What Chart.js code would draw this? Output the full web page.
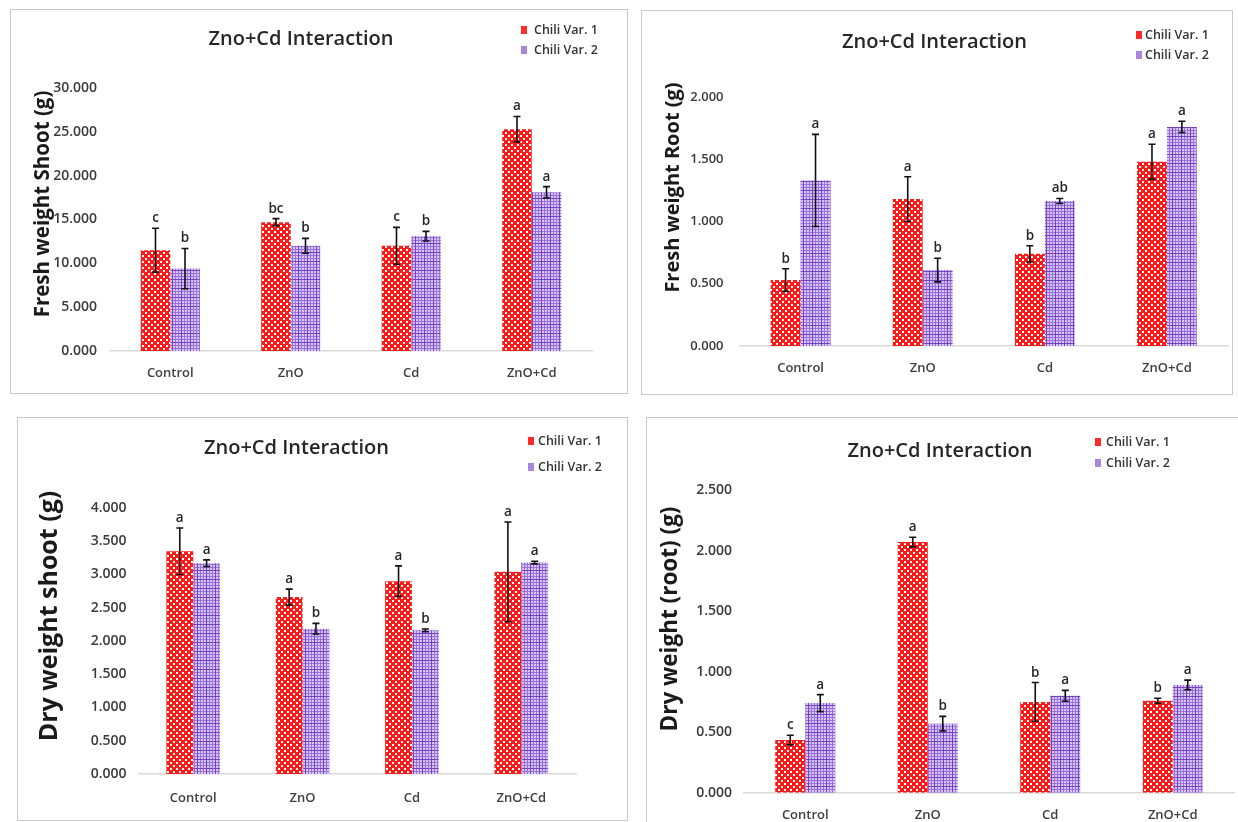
<!DOCTYPE html>
<html>
<head>
<meta charset="utf-8">
<script src="https://cdn.jsdelivr.net/npm/chart.js@4.4.1/dist/chart.umd.min.js"></script>
<style>
body{margin:0;background:#fff;width:1238px;height:822px;overflow:hidden;position:relative;font-family:'Open Sans',sans-serif}
.panel{position:absolute;border:1px solid #c9c9c9;box-sizing:border-box;background:#fff}
.panel .wrap{position:absolute;left:-1px;top:-1px}
.leg{position:absolute;font:600 12.5px 'Open Sans',sans-serif;color:#333;line-height:16px;white-space:nowrap}
</style>
</head>
<body>
<script>
// Data

const categories = ['Control', 'ZnO', 'Cd', 'ZnO+Cd'];
const seriesNames = ['Chili Var. 1', 'Chili Var. 2'];
const chartTitle = 'Zno+Cd Interaction';

// fresh weight shoot
const fwShootVar1 = [11.5, 14.7, 12.0, 25.3];
const fwShootVar2 = [9.4, 12.0, 13.1, 18.1];
const fwShootErr1 = [2.5, 0.4, 2.1, 1.45];
const fwShootErr2 = [2.3, 0.85, 0.55, 0.65];
const fwShootLet1 = ['c', 'bc', 'c', 'a'];
const fwShootLet2 = ['b', 'b', 'b', 'a'];

// fresh weight root
const fwRootVar1 = [0.53, 1.18, 0.74, 1.48];
const fwRootVar2 = [1.33, 0.61, 1.165, 1.76];
const fwRootErr1 = [0.09, 0.18, 0.065, 0.14];
const fwRootErr2 = [0.37, 0.095, 0.02, 0.045];
const fwRootLet1 = ['b', 'a', 'b', 'a'];
const fwRootLet2 = ['a', 'b', 'ab', 'a'];

// dry weight shoot
const dwShootVar1 = [3.35, 2.66, 2.90, 3.04];
const dwShootVar2 = [3.17, 2.185, 2.16, 3.18];
const dwShootErr1 = [0.35, 0.12, 0.23, 0.75];
const dwShootErr2 = [0.05, 0.08, 0.02, 0.02];
const dwShootLet1 = ['a', 'a', 'a', 'a'];
const dwShootLet2 = ['a', 'b', 'b', 'a'];

// dry weight root
const dwRootVar1 = [0.435, 2.07, 0.75, 0.76];
const dwRootVar2 = [0.74, 0.57, 0.80, 0.89];
const dwRootErr1 = [0.04, 0.04, 0.16, 0.02];
const dwRootErr2 = [0.07, 0.06, 0.045, 0.04];
const dwRootLet1 = ['c', 'a', 'b', 'b'];
const dwRootLet2 = ['a', 'b', 'a', 'a'];

const yTitles = ['Fresh weight Shoot (g)', 'Fresh weight Root (g)', 'Dry weight shoot (g)', 'Dry weight (root) (g)'];
const yMax = [30, 2, 4, 2.5];
const yStep = [5, 0.5, 0.5, 0.5];

// Patterns

var pctx = document.createElement('canvas').getContext('2d');

function redPattern() {
	var c = document.createElement('canvas'); c.width = 6; c.height = 6;
	var g = c.getContext('2d');
	g.fillStyle = '#ff1a1a'; g.fillRect(0, 0, 6, 6);
	g.fillStyle = '#ffffff';
	g.fillRect(0, 0, 2, 2); g.fillRect(3, 3, 2, 2);
	return pctx.createPattern(c, 'repeat');
}
function purplePattern() {
	var c = document.createElement('canvas'); c.width = 9; c.height = 9;
	var g = c.getContext('2d');
	g.fillStyle = '#d6c5f1'; g.fillRect(0, 0, 9, 9);
	g.fillStyle = '#9a72dc';
	[3, 6].forEach(function (k) { g.fillRect(k, 0, 1, 9); g.fillRect(0, k, 9, 1); });
	g.fillStyle = '#7440c6';
	g.fillRect(0, 0, 1, 9); g.fillRect(0, 0, 9, 1);
	return pctx.createPattern(c, 'repeat');
}
var red = redPattern(), purple = purplePattern();

// error bars, letters and y title
const annot = {
	id: 'annot',
	afterDatasetsDraw(chart) {
		var ctx = chart.ctx, y = chart.scales.y;
		chart.data.datasets.forEach(function (ds, i) {
			chart.getDatasetMeta(i).data.forEach(function (bar, j) {
				var v = ds.data[j], e = ds.errors[j];
				var t = y.getPixelForValue(v + e), b = y.getPixelForValue(v - e);
				ctx.save();
				ctx.strokeStyle = '#111'; ctx.lineWidth = 1.6;
				ctx.beginPath();
				ctx.moveTo(bar.x, t); ctx.lineTo(bar.x, b);
				ctx.moveTo(bar.x - 3.5, t); ctx.lineTo(bar.x + 3.5, t);
				ctx.moveTo(bar.x - 3.5, b); ctx.lineTo(bar.x + 3.5, b);
				ctx.stroke();
				ctx.fillStyle = '#262626';
				ctx.font = '600 13.5px "Open Sans"';
				ctx.textAlign = 'center';
				ctx.fillText(ds.letters[j], bar.x, t - 6);
				ctx.restore();
			});
		});
	},
	afterDraw(chart, args, o) {
		var ctx = chart.ctx;
		ctx.save();
		ctx.translate(o.x, o.y); ctx.rotate(-Math.PI / 2);
		ctx.font = 'bold ' + o.size + 'px "Open Sans"';
		ctx.fillStyle = '#1a1a1a';
		ctx.textAlign = 'center'; ctx.textBaseline = 'middle';
		ctx.fillText(o.text, 0, 0);
		ctx.restore();
	}
};

// panel boxes: left, top, w, h, y axis width, right pad, title pad, x axis height, x tick pad, y tick pad/size, y title x/y/size
var panels = [
	{ l: 10, t: 9, w: 618, h: 385, yw: 100, rp: 36, tt: 18.5, tb: 36.5, xh: 43, xp: 14, yp: 13, yf: 14, tx: 33, ty: 195, ts: 20.5,
	  v1: fwShootVar1, v2: fwShootVar2, e1: fwShootErr1, e2: fwShootErr2, l1: fwShootLet1, l2: fwShootLet2,
	  leg: [521, 534, 29.5, 50] },
	{ l: 641, t: 10, w: 592, h: 385, yw: 98.5, rp: 5, tt: 19.8, tb: 43.2, xh: 49, xp: 14, yp: 16, yf: 13, tx: 32.5, ty: 177.5, ts: 20,
	  v1: fwRootVar1, v2: fwRootVar2, e1: fwRootErr1, e2: fwRootErr2, l1: fwRootLet1, l2: fwRootLet2,
	  leg: [1136, 1145, 34.5, 54.5] },
	{ l: 17, t: 417, w: 611, h: 404, yw: 121.5, rp: 52, tt: 19, tb: 48, xh: 47, xp: 16, yp: 12, yf: 14, tx: 33, ty: 199, ts: 25,
	  v1: dwShootVar1, v2: dwShootVar2, e1: dwShootErr1, e2: dwShootErr2, l1: dwShootLet1, l2: dwShootLet2,
	  leg: [528, 538, 441, 467] },
	{ l: 646, t: 417, w: 600, h: 410, yw: 98, rp: 12, tt: 22.7, tb: 26.3, xh: 34.3, xp: 14.5, yp: 12, yf: 14, tx: 24.5, ty: 202, ts: 22.5,
	  v1: dwRootVar1, v2: dwRootVar2, e1: dwRootErr1, e2: dwRootErr2, l1: dwRootLet1, l2: dwRootLet2,
	  leg: [1095, 1106, 442, 463] }
];

panels.forEach(function (p, k) {
	var box = document.createElement('div');
	box.className = 'panel';
	box.style.cssText = 'left:' + p.l + 'px;top:' + p.t + 'px;width:' + p.w + 'px;height:' + p.h + 'px';
	var wrap = document.createElement('div');
	wrap.className = 'wrap';
	wrap.style.cssText = 'width:' + p.w + 'px;height:' + p.h + 'px';
	var cv = document.createElement('canvas');
	wrap.appendChild(cv); box.appendChild(wrap); document.body.appendChild(box);

	// legend
	[0, 1].forEach(function (s) {
		var sw = document.createElement('div');
		sw.style.cssText = 'position:absolute;left:' + p.leg[0] + 'px;top:' + (p.leg[2 + s] - 4) + 'px;width:6px;height:8px;background:' + (s ? '#a987dc' : '#ff2a2a');
		document.body.appendChild(sw);
		var tx = document.createElement('div');
		tx.className = 'leg';
		tx.style.left = p.leg[1] + 'px';
		tx.style.top = (p.leg[2 + s] - 8) + 'px';
		tx.textContent = seriesNames[s];
		document.body.appendChild(tx);
	});

	new Chart(cv.getContext('2d'), {
		type: 'bar',
		data: {
			labels: categories,
			datasets: [
				{ label: seriesNames[0], data: p.v1, errors: p.e1, letters: p.l1, backgroundColor: red,
				  categoryPercentage: 0.49, barPercentage: 1 },
				{ label: seriesNames[1], data: p.v2, errors: p.e2, letters: p.l2, backgroundColor: purple,
				  categoryPercentage: 0.49, barPercentage: 1 }
			]
		},
		options: {
			responsive: true,
			maintainAspectRatio: false,
			animation: false,
			layout: { padding: { left: 0, right: p.rp, top: 0, bottom: 0 } },
			plugins: {
				legend: { display: false },
				tooltip: { enabled: false },
				title: {
					display: true, text: chartTitle, color: '#262626',
					font: { family: 'Open Sans', size: 20, weight: '600' },
					padding: { top: p.tt, bottom: p.tb }
				},
				annot: { text: yTitles[k], x: p.tx, y: p.ty, size: p.ts }
			},
			scales: {
				x: {
					grid: { display: false, drawTicks: false, tickLength: 0 },
					border: { display: true, color: '#d9d9d9', width: 1.5 },
					ticks: { color: '#404040', padding: p.xp, font: { family: 'Open Sans', size: 13, weight: '600' } },
					afterFit: function (s) { s.height = p.xh; }
				},
				y: {
					min: 0, max: yMax[k],
					grid: { display: false, drawTicks: false, tickLength: 0 },
					border: { display: false },
					ticks: {
						stepSize: yStep[k], color: '#3a3a3a', padding: p.yp,
						font: { family: 'Open Sans', size: p.yf, weight: '600' },
						callback: function (v) { return v.toFixed(3); }
					},
					afterFit: function (s) { s.width = p.yw; }
				}
			}
		},
		plugins: [annot]
	});
});
</script>
</body>
</html>
